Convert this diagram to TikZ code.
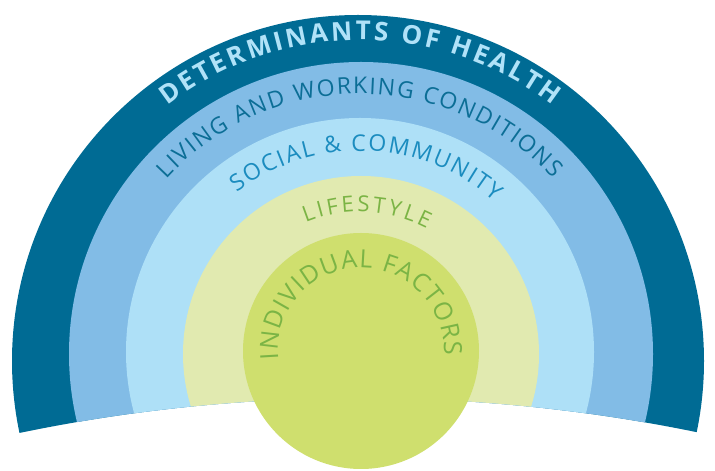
\documentclass[tikz,border=0pt]{standalone}
\usepackage{fontspec}
\setmainfont{Open Sans}
\usetikzlibrary{decorations.text}

\definecolor{ringdark}{HTML}{006B94}
\definecolor{ringmid}{HTML}{82BCE6}
\definecolor{ringpale}{HTML}{AEE0F7}
\definecolor{ringlime}{HTML}{E1EAB0}
\definecolor{corelime}{HTML}{CFDF6E}
\definecolor{txtpale}{HTML}{B0E2F8}
\definecolor{txtdark}{HTML}{0C6E96}
\definecolor{txtmid}{HTML}{1B8CBF}
\definecolor{txtgreen}{HTML}{7BB445}

% extra room between the letters of each label
\newcommand\detgap{\kern2.9pt}
\newcommand\livgap{\kern1.7pt}
\newcommand\socgap{\kern1.9pt}
\newcommand\lifegap{\kern3pt}
\newcommand\indgap{\kern1.3pt}

\begin{document}
\begin{tikzpicture}[x=1pt,y=1pt,
  arctext/.style={decorate,decoration={text along path,text align=center,text color=#1}}]
\useasboundingbox (0,0) rectangle (715,471);
\coordinate (mid) at (360,115);
\coordinate (bottom) at (360,-1603);
\coordinate (core) at (361,120);
% rings, cut off by the wide curve at the bottom
\begin{scope}
\clip (bottom) ++(104:1676) arc[start angle=104,end angle=76,radius=1676] -- (800,471) -- (-80,471) -- cycle;
\fill [ringdark] (358,110) circle (346);
\fill [ringmid] (361,117) circle (292);
\fill [ringpale] (360,119) circle (234);
\fill [ringlime] (361,117) circle (178);
\end{scope}
\fill [corelime] (core) circle (118);
% labels
\path [arctext=txtpale,decoration={text={|\bfseries\fontsize{26}{30}\selectfont|D{\detgap}E{\detgap}T{\detgap}E{\detgap}R{\detgap}M{\detgap}I{\detgap}N{\detgap}A{\detgap}N{\detgap}T{\detgap}S{\detgap} {\detgap}O{\detgap}F{\detgap} {\detgap}H{\detgap}E{\detgap}A{\detgap}L{\detgap}T{\detgap}H}}]
  (mid) ++(140:316) arc[start angle=140,end angle=40,radius=316];
\path [arctext=txtdark,decoration={text={|\fontsize{23}{28}\selectfont|L{\livgap}I{\livgap}V{\livgap}I{\livgap}N{\livgap}G{\livgap} {\livgap}A{\livgap}N{\livgap}D{\livgap} {\livgap}W{\livgap}O{\livgap}R{\livgap}K{\livgap}I{\livgap}N{\livgap}G{\livgap} {\livgap}C{\livgap}O{\livgap}N{\livgap}D{\livgap}I{\livgap}T{\livgap}I{\livgap}O{\livgap}N{\livgap}S}}]
  (mid) ++(150:262) arc[start angle=150,end angle=30,radius=262];
\path [arctext=txtmid,decoration={text={|\fontsize{23}{28}\selectfont|S{\socgap}O{\socgap}C{\socgap}I{\socgap}A{\socgap}L{\socgap} {\socgap}{\&}{\socgap} {\socgap}C{\socgap}O{\socgap}M{\socgap}M{\socgap}U{\socgap}N{\socgap}I{\socgap}T{\socgap}Y}}]
  (mid) ++(138:205) arc[start angle=138,end angle=38,radius=205];
\path [arctext=txtgreen,decoration={text={|\fontsize{22}{26}\selectfont|L{\lifegap}I{\lifegap}F{\lifegap}E{\lifegap}S{\lifegap}T{\lifegap}Y{\lifegap}L{\lifegap}E}}]
  (mid) ++(137.25:144) arc[start angle=137.25,end angle=37.25,radius=144];
\path [arctext=txtgreen,decoration={text={|\fontsize{25}{30}\selectfont|I{\indgap}N{\indgap}D{\indgap}I{\indgap}V{\indgap}I{\indgap}D{\indgap}U{\indgap}A{\indgap}L{\indgap} {\indgap}F{\indgap}A{\indgap}C{\indgap}T{\indgap}O{\indgap}R{\indgap}S}}]
  (core) ++(201.25:83) arc[start angle=201.25,end angle=-18.75,radius=83];
\end{tikzpicture}
\end{document}
